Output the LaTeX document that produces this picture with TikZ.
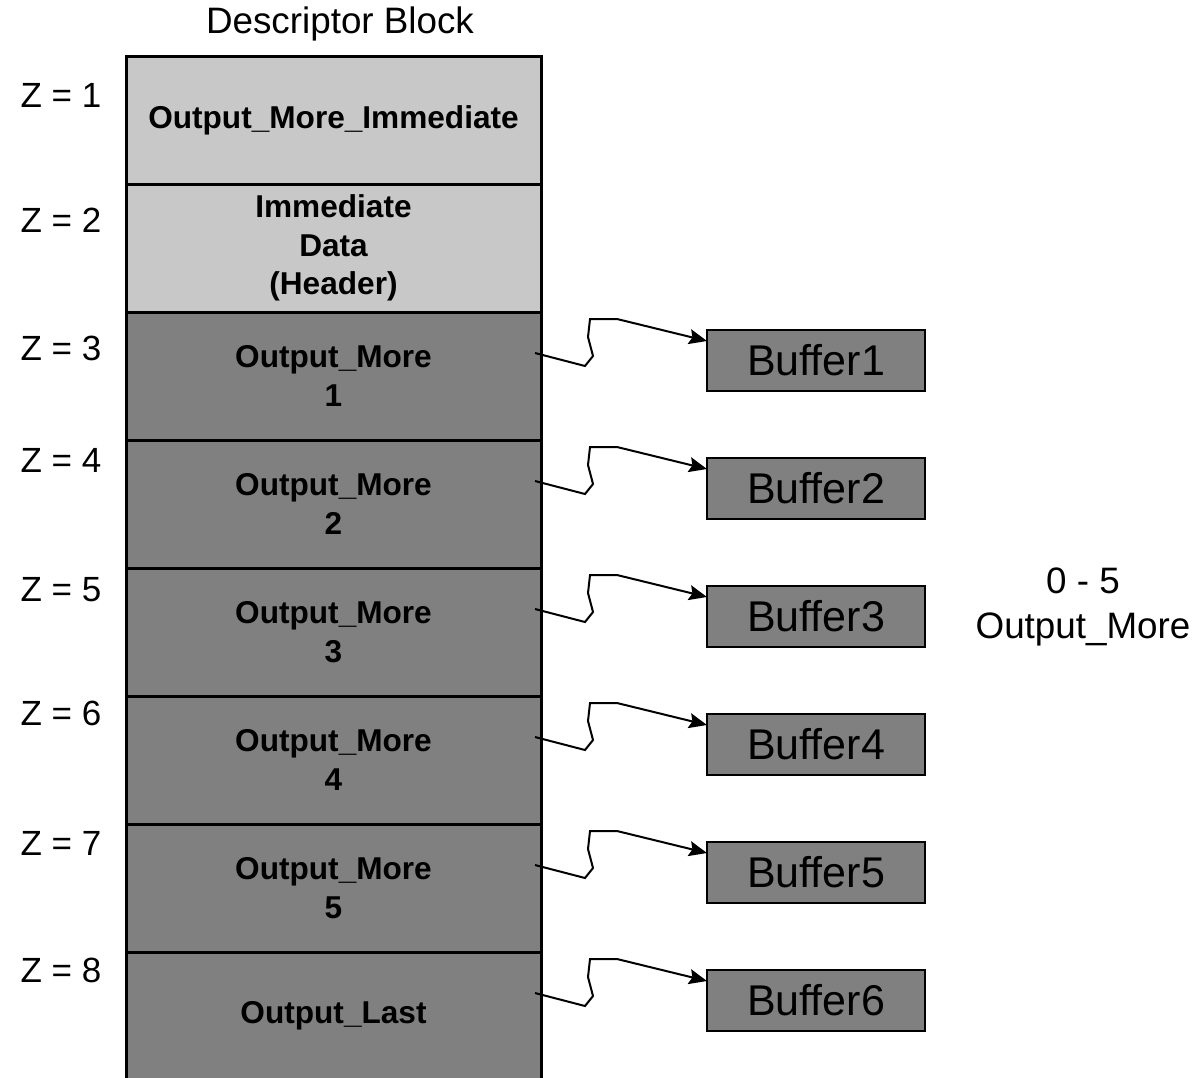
\documentclass[tikz,border=0pt]{standalone}
\usepackage{fontspec}
\setmainfont{Liberation Sans}
\usetikzlibrary{arrows.meta}
\definecolor{lightgrey}{RGB}{200,200,200}
\definecolor{midgrey}{RGB}{128,128,128}

\begin{document}
\begin{tikzpicture}[x=0.5pt,y=-0.5pt,
  row/.style={draw,line width=1.5pt,minimum width=207.5pt,minimum height=64pt,inner sep=0pt,outer sep=0pt,align=center,font=\fontsize{15.8}{19.3}\selectfont\bfseries},
  buffer/.style={draw,line width=1.2pt,fill=midgrey,minimum width=109pt,minimum height=30.5pt,inner sep=0pt,outer sep=0pt,font=\fontsize{21.5}{26}\selectfont},
  zlabel/.style={font=\fontsize{17.5}{21}\selectfont},
  link/.style={line width=1pt,line join=miter,-{Stealth[length=9pt,width=7.5pt,inset=1.5pt]}}]
\useasboundingbox (0,0) rectangle (1203,1077);
\clip (0,0) rectangle (1203,1077);

\node[font=\fontsize{18.4}{22}\selectfont] (title) at (340,24) {Descriptor Block};

% descriptor rows
\node[row,fill=lightgrey] (r1) at (333.5,120) {Output\_More\_Immediate};
\node[row,fill=lightgrey] (r2) at (333.5,248) {Immediate\\Data\\(Header)};
\foreach \r/\k in {3/1,4/2,5/3,6/4,7/5}
  \node[row,fill=midgrey] (r\r) at (333.5,{120+128*(\r-1)}) {Output\_More\\\k};
\node[row,fill=midgrey] (r8) at (333.5,1016) {Output\_Last};

% Z labels
\foreach \z/\y in {1/95,2/220,3/348,4/460,5/590,6/713,7/843,8/970}
  \node[zlabel] (z\z) at (61,\y) {Z = \z};

% buffers and links
\foreach \k in {1,...,6}{
  \pgfmathtruncatemacro{\r}{\k+2}
  \node[buffer] (b\k) at (816,{360.5+128*(\k-1)}) {Buffer\k};
  \draw[link] ([shift={(-6,-23)}]r\r.east) -- ++(50,13) -- ++(8,-10) -- ++(-5,-19)
    -- ++(2,-18) -- ++(27,0) -- ([shift={(0,-19.5)}]b\k.west);
}

\node[align=center,font=\fontsize{18.4}{22.5}\selectfont] (note) at (1083,607) {0 - 5\\Output\_More};

\end{tikzpicture}
\end{document}
